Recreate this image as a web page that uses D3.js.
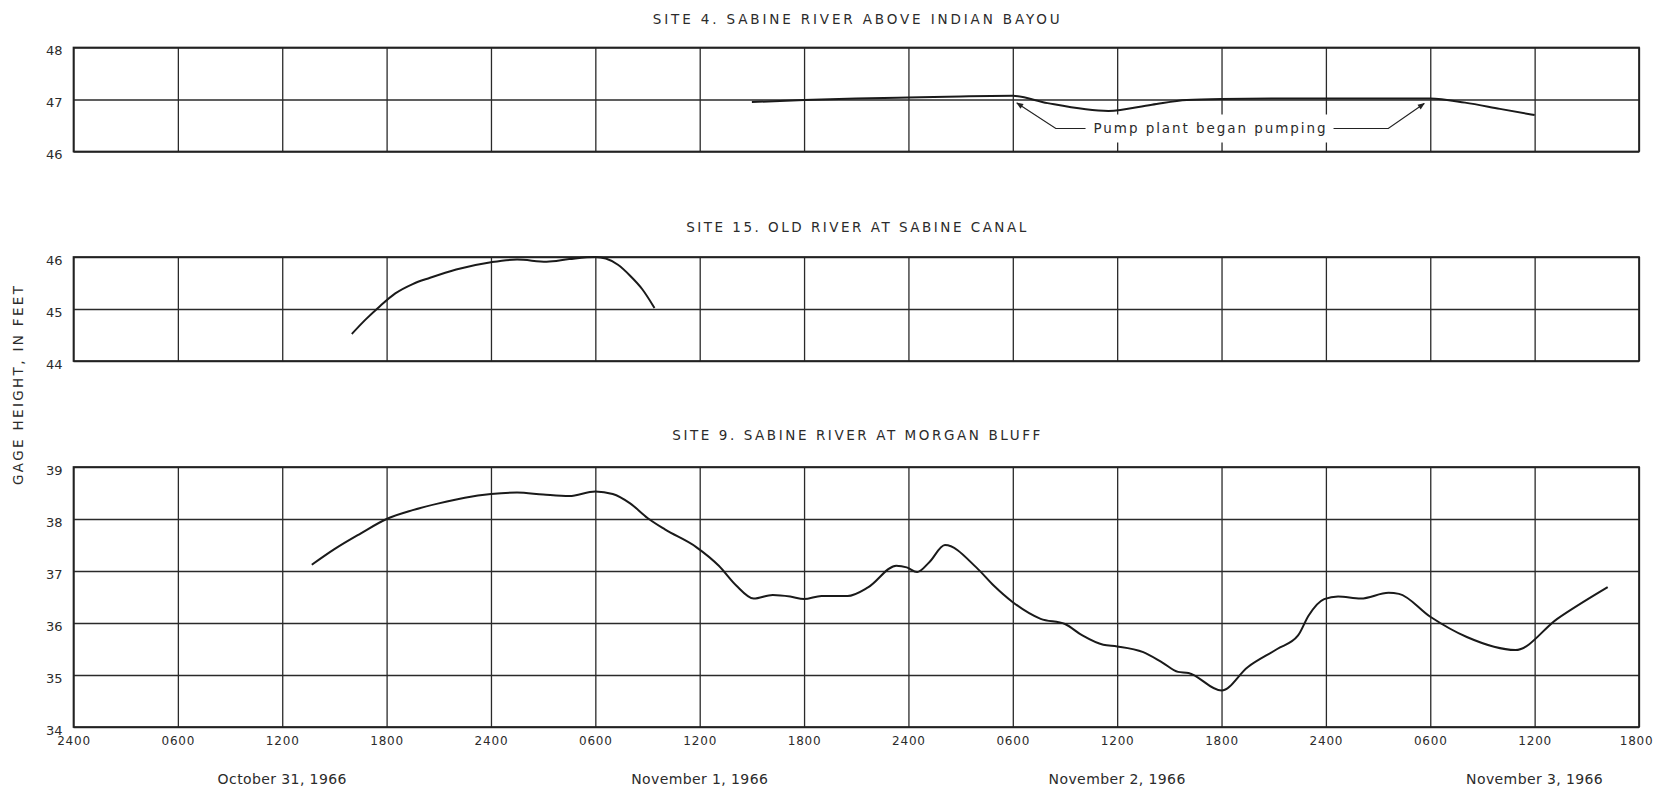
<!DOCTYPE html>
<html>
<head>
<meta charset="utf-8">
<script src="https://cdn.jsdelivr.net/npm/d3@7"></script>
<style>
  body { margin: 0; background: #fff; }
  svg { display: block; }
  text { font-family: "DejaVu Sans", sans-serif; fill: #2b2b2b; }
</style>
</head>
<body>
<div id="chart"></div>
<script>
// hours after 2400 Oct 30 (= start of Oct 31, 1966)
const hourTicks = d3.range(0, 91, 6);
const tickLabels = ["2400", "0600", "1200", "1800", "2400", "0600", "1200", "1800",
  "2400", "0600", "1200", "1800", "2400", "0600", "1200", "1800"];
const dateLabels = ["October 31, 1966", "November 1, 1966", "November 2, 1966", "November 3, 1966"];
const dateHours = [12, 36, 60, 84];

const titles = ["SITE 4. SABINE RIVER ABOVE INDIAN BAYOU",
  "SITE 15. OLD RIVER AT SABINE CANAL",
  "SITE 9. SABINE RIVER AT MORGAN BLUFF"];

const site4Hours = [39, 42, 45, 48, 51, 54, 56, 59.5, 62, 64, 66, 70, 74, 78, 80, 82, 84];
const site4Stage = [46.95, 46.99, 47.02, 47.04, 47.06, 47.07, 46.93, 46.78, 46.9, 46.99, 47.01, 47.02, 47.02, 47.02, 46.94, 46.82, 46.7];

const site15Hours = [16, 16.8, 17.6, 18.5, 19.5, 20.5, 22, 24, 25.5, 27.2, 28.5, 30, 30.6, 31.3, 32, 32.7, 33.4];
const site15Stage = [44.52, 44.8, 45.05, 45.3, 45.48, 45.6, 45.76, 45.9, 45.95, 45.91, 45.96, 46.0, 45.97, 45.85, 45.64, 45.38, 45.02];

const site9Hours = [13.7, 15, 16.5, 18, 19.5, 21, 22.5, 24, 25.5, 27, 28.5, 30, 31, 32, 33, 34, 35.8, 37.1,
  38.1, 39.1, 40.2, 41.2, 42, 43, 44.5, 45.7, 47.3, 47.9, 48.5, 49.2, 50.1, 51.9, 52.9, 54, 55.6,
  57, 58, 59.2, 60, 61.5, 62.6, 63.5, 64.1, 66, 67.5, 69.2, 70.4, 71, 71.9, 72.7, 74, 75.6, 76.2,
  78, 80.1, 82.9, 85.3, 88.2];
const site9Stage = [37.12, 37.42, 37.72, 38.0, 38.17, 38.3, 38.41, 38.48, 38.51, 38.47, 38.44, 38.53, 38.48, 38.3, 38.02, 37.8, 37.46, 37.1,
  36.72, 36.47, 36.54, 36.51, 36.46, 36.52, 36.52, 36.69, 37.1, 37.07, 36.98, 37.17, 37.5, 37.07, 36.72, 36.4, 36.08,
  35.98, 35.76, 35.58, 35.55, 35.44, 35.24, 35.06, 35.04, 34.7, 35.15, 35.5, 35.76, 36.14, 36.46, 36.51, 36.47, 36.58, 36.56,
  36.12, 35.73, 35.48, 36.08, 36.69];

const pumpHours = [54, 78];
const pumpLabel = "Pump plant began pumping";

const width = 1654, height = 790;
const left = 73.5, right = 1639;

const svg = d3.select("#chart").append("svg")
  .attr("width", width)
  .attr("height", height);

const x = d3.scaleLinear().domain([0, 90]).range([left, right]);

const panels = [
  { title: titles[0], titleY: 24, titleLen: 407, domain: [46, 48], top: 47.5, bottom: 151.5, hours: site4Hours, stage: site4Stage },
  { title: titles[1], titleY: 232, titleLen: 340, domain: [44, 46], top: 257, bottom: 361, hours: site15Hours, stage: site15Stage },
  { title: titles[2], titleY: 440, titleLen: 368, domain: [34, 39], top: 467, bottom: 727, hours: site9Hours, stage: site9Stage }
];

panels.forEach((p, k) => {
  let y = d3.scaleLinear().domain(p.domain).range([p.bottom, p.top]);
  let g = svg.append("g");
  let last = k === panels.length - 1;

  // vertical grid (and time labels on the bottom panel)
  let xAxis = d3.axisBottom(x)
    .tickValues(hourTicks)
    .tickSize(-(p.bottom - p.top))
    .tickPadding(9)
    .tickFormat((d, i) => last ? tickLabels[i] : "");
  g.append("g")
    .attr("transform", "translate(0," + p.bottom + ")")
    .call(xAxis)
    .call(a => a.select(".domain").remove())
    .call(a => a.selectAll("line").attr("stroke", "#2a2a2a").attr("stroke-width", 1.3))
    .call(a => a.selectAll("text").attr("font-size", 12).attr("letter-spacing", "0.8px")
      .style("font-family", "DejaVu Sans").attr("fill", "#333"))
    .call(a => a.selectAll(".tick:last-of-type text").attr("text-anchor", "end").attr("x", 14));

  // horizontal grid and stage labels
  let yAxis = d3.axisLeft(y)
    .tickValues(d3.range(p.domain[0], p.domain[1] + 1))
    .tickSize(-(right - left))
    .tickPadding(11)
    .tickFormat(d3.format("d"));
  g.append("g")
    .attr("transform", "translate(" + left + ",0)")
    .call(yAxis)
    .call(a => a.select(".domain").remove())
    .call(a => a.selectAll("line").attr("stroke", "#2a2a2a").attr("stroke-width", 1.3))
    .call(a => a.selectAll("text").attr("font-size", 13).attr("dy", "0.55em")
      .style("font-family", "DejaVu Sans").attr("fill", "#2b2b2b"));

  g.append("rect")
    .attr("x", left)
    .attr("y", p.top)
    .attr("width", right - left)
    .attr("height", p.bottom - p.top)
    .attr("fill", "none")
    .attr("stroke", "#222")
    .attr("stroke-width", 1.7);

  g.append("text")
    .attr("x", (left + right) / 2)
    .attr("y", p.titleY)
    .attr("text-anchor", "middle")
    .attr("font-size", 13.5)
    .attr("textLength", p.titleLen)
    .attr("lengthAdjust", "spacing")
    .text(p.title);

  let line = d3.line()
    .x((d) => x(d[0]))
    .y((d) => y(d[1]))
    .curve(d3.curveMonotoneX);

  g.append("path")
    .datum(p.hours.map((h, i) => [h, p.stage[i]]))
    .attr("d", line)
    .attr("fill", "none")
    .attr("stroke", "#1a1a1a")
    .attr("stroke-width", 2);

  p.y = y;
  p.g = g;
});

// pump annotation on site 4
let p1 = panels[0];
let tipL = [x(pumpHours[0]) + 4, p1.y(47) + 3.5];
let tipR = [x(pumpHours[1]) - 6, p1.y(47) + 4];
let labelY = 128.5;
let labelMid = (tipL[0] + tipR[0]) / 2 - 11;

p1.g.append("rect")
  .attr("x", labelMid - 122)
  .attr("y", labelY - 14)
  .attr("width", 244)
  .attr("height", 28)
  .attr("fill", "#fff");

p1.g.append("text")
  .attr("x", labelMid)
  .attr("y", labelY + 4.5)
  .attr("text-anchor", "middle")
  .attr("font-size", 13.5)
  .attr("textLength", 232)
  .attr("lengthAdjust", "spacing")
  .text(pumpLabel);

svg.append("defs").append("marker")
  .attr("id", "arrow")
  .attr("viewBox", "0 0 10 10")
  .attr("refX", 9)
  .attr("refY", 5)
  .attr("markerWidth", 9)
  .attr("markerHeight", 7)
  .attr("markerUnits", "userSpaceOnUse")
  .attr("orient", "auto")
  .append("path")
  .attr("d", "M0,1 L10,5 L0,9 Z")
  .attr("fill", "#222");

p1.g.append("path")
  .attr("d", d3.line()([[labelMid - 124, labelY], [tipL[0] + 39, labelY], tipL]))
  .attr("fill", "none")
  .attr("stroke", "#222")
  .attr("stroke-width", 1.2)
  .attr("marker-end", "url(#arrow)");

p1.g.append("path")
  .attr("d", d3.line()([[labelMid + 124, labelY], [tipR[0] - 36, labelY], tipR]))
  .attr("fill", "none")
  .attr("stroke", "#222")
  .attr("stroke-width", 1.2)
  .attr("marker-end", "url(#arrow)");

// date labels under the bottom panel
svg.append("g")
  .selectAll("text")
  .data(dateLabels)
  .enter()
  .append("text")
  .attr("x", (d, i) => x(dateHours[i]))
  .attr("y", 784)
  .attr("text-anchor", "middle")
  .attr("font-size", 14)
  .attr("letter-spacing", "0.4px")
  .text((d) => d);

// shared y-axis title
svg.append("text")
  .attr("transform", "translate(23,385.5) rotate(-90)")
  .attr("text-anchor", "middle")
  .attr("font-size", 13.5)
  .attr("textLength", 199)
  .attr("lengthAdjust", "spacing")
  .text("GAGE HEIGHT, IN FEET");
</script>
</body>
</html>
